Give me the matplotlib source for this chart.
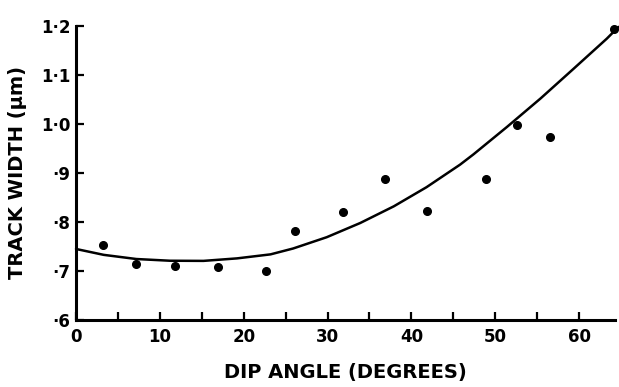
import matplotlib
matplotlib.use("Agg")
import matplotlib.pyplot as plt
from matplotlib.ticker import FixedLocator

# Measured points (dip angle in degrees, track width in µm)
dip_angle = [3.2, 7.1, 11.8, 16.9, 22.6, 26.1, 31.9, 36.8, 41.9, 48.9, 52.6, 56.5, 64.2]
track_width = [0.754, 0.715, 0.710, 0.709, 0.701, 0.782, 0.821, 0.888, 0.822, 0.887, 0.998, 0.973, 1.194]

# Fitted curve
curve_angle = [0.0, 3.3, 7.2, 11.2, 15.2, 19.2, 23.2, 25.9, 29.9, 33.9, 37.9, 41.8, 45.8,
               47.4, 51.4, 55.4, 59.3, 63.3, 64.7]
curve_width = [0.745, 0.733, 0.7245, 0.721, 0.7207, 0.7258, 0.734, 0.746, 0.769, 0.798, 0.832,
               0.871, 0.917, 0.938, 0.994, 1.052, 1.112, 1.174, 1.198]

x_major = [0, 10, 20, 30, 40, 50, 60]
x_minor = [5, 15, 25, 35, 45, 55]
y_ticks = [0.6, 0.7, 0.8, 0.9, 1.0, 1.1, 1.2]
y_tick_labels = ["·6", "·7", "·8", "·9", "1·0", "1·1", "1·2"]

fig = plt.figure(figsize=(6.19, 3.87), dpi=100)
ax = fig.add_axes([0.1228, 0.173, 0.871, 0.760])

ax.plot(curve_angle, curve_width, color="black", lw=1.8, solid_capstyle="round",
        solid_joinstyle="round", clip_on=False)
ax.plot(dip_angle, track_width, "o", color="black", ms=5.5, clip_on=False)

ax.set_xlim(0, 64.3)
ax.set_ylim(0.6, 1.2)

for s in ["top", "right"]:
    ax.spines[s].set_visible(False)
for s in ["left", "bottom"]:
    ax.spines[s].set_linewidth(2.2)

ax.xaxis.set_major_locator(FixedLocator(x_major))
ax.xaxis.set_minor_locator(FixedLocator(x_minor))
ax.set_yticks(y_ticks)
ax.set_yticklabels(y_tick_labels)

ax.tick_params(axis="x", which="both", direction="in", length=6, width=1.6, pad=6,
               labelsize=12)
ax.tick_params(axis="y", which="major", direction="in", length=6, width=1.6, pad=4,
               labelsize=12)
for lbl in ax.get_xticklabels() + ax.get_yticklabels():
    lbl.set_fontweight("bold")

ax.set_xlabel("DIP ANGLE (DEGREES)", fontsize=14, fontweight="bold", labelpad=12)
ax.set_ylabel("TRACK WIDTH (μm)", fontsize=14, fontweight="bold", labelpad=10)

fig.savefig("out.png", dpi=100)
